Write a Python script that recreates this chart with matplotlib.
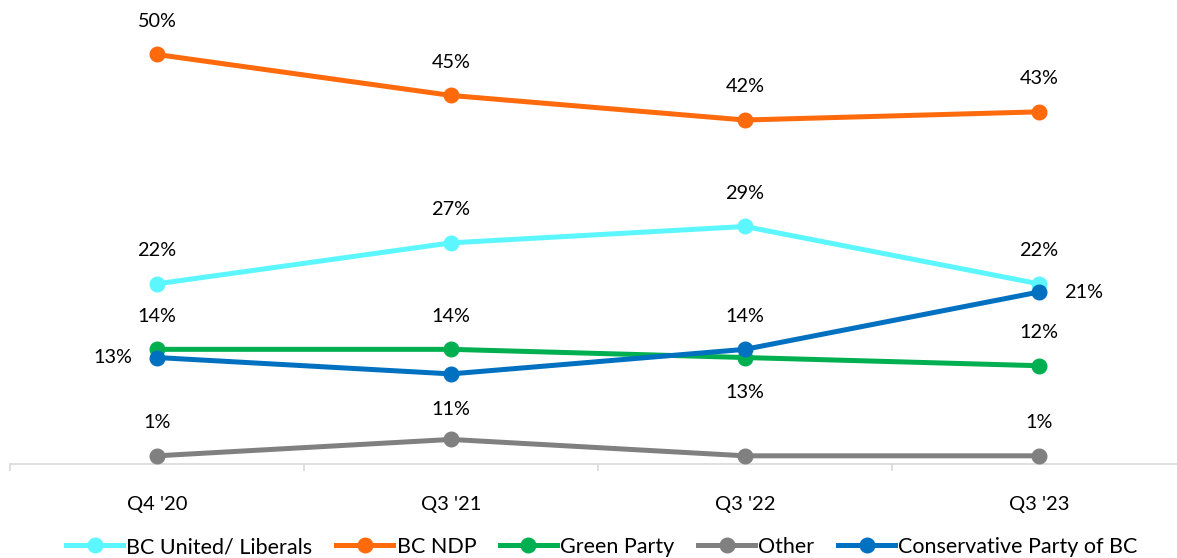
import matplotlib.pyplot as plt
from matplotlib.lines import Line2D

plt.rcParams['font.family'] = ['Lato', 'DejaVu Sans']

# data
quarters = ["Q4 '20", "Q3 '21", "Q3 '22", "Q3 '23"]
parties = ["BC United/ Liberals", "BC NDP", "Green Party", "Other", "Conservative Party of BC"]
liberals = [22, 27, 29, 22]
ndp = [50, 45, 42, 43]
green = [14, 14, 13, 12]
other = [1, 3, 1, 1]
conservative = [13, 11, 14, 21]

series = [liberals, ndp, green, other, conservative]
colors = ["#5CF6FF", "#FF6A0D", "#00B050", "#808080", "#0070C0"]

# where each data label sits (None = no label shown)
label_pos = [
    ["up", "up", "up", "up"],
    ["up", "up", "up", "up"],
    ["up", "up", "down", "up"],
    ["up", None, None, "up"],
    ["left", "down", "up", "right"],
]
offsets = {"up": (0, 24), "down": (0, -25.5), "left": (-32, 0), "right": (32, 0)}

fig = plt.figure(figsize=(11.77, 5.58), dpi=100)
ax = fig.add_axes([10 / 1177, 94 / 558, 1176 / 1177, 55 * 8.19 / 558])

x = list(range(len(quarters)))
for vals, col, name, pos in zip(series, colors, parties, label_pos):
    ax.plot(x, vals, color=col, lw=3.6, marker='o', markersize=10.5,
            solid_capstyle='round', label=name, zorder=3)
    for xi, v, p in zip(x, vals, pos):
        if p is None:
            continue
        ax.annotate(f"{v}%", (xi, v), xytext=offsets[p], textcoords='offset points',
                    ha='center', va='center', fontsize=14.3, color='#000000')

ax.set_xlim(-0.5, len(quarters) - 0.5)
ax.set_ylim(0, 55)
for s in ['top', 'right', 'left']:
    ax.spines[s].set_visible(False)
ax.spines['bottom'].set_color('#D9D9D9')
ax.spines['bottom'].set_linewidth(1.2)
ax.set_yticks([])
ax.set_xticks(x)
ax.set_xticklabels(quarters, fontsize=14.5)
ax.tick_params(axis='x', which='major', length=0, pad=23)
ax.set_xticks([i - 0.5 for i in range(len(quarters) + 1)], minor=True)
ax.tick_params(axis='x', which='minor', length=5, color='#D9D9D9', width=1.2)

handles = [Line2D([0], [0], color=c, lw=3.6, marker='o', markersize=10.5) for c in colors]
fig.legend(handles, parties, loc='center', bbox_to_anchor=(602 / 1177, 1 - 547 / 558),
           ncol=5, frameon=False, fontsize=15.5, handlelength=2.65, handletextpad=0.15,
           columnspacing=1.1, borderaxespad=0)

fig.savefig('out.png', dpi=100)
